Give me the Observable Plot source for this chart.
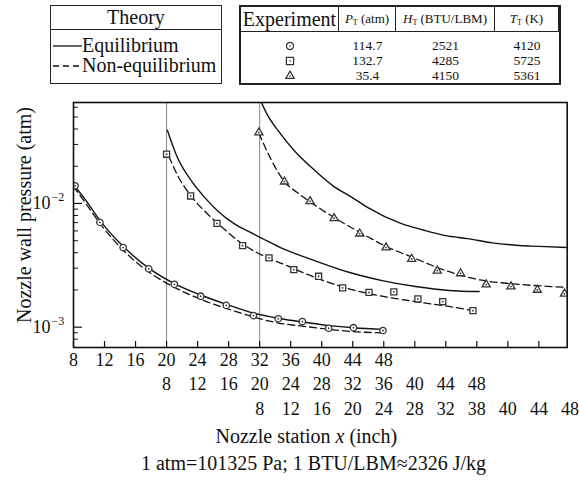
<!DOCTYPE html>
<html><head><meta charset="utf-8">
<script src="https://cdn.jsdelivr.net/npm/d3@7"></script>
<script src="https://cdn.jsdelivr.net/npm/@observablehq/plot@0.6"></script>
<style>
body { margin:0; background:#fff; font-family:"Liberation Serif","Times New Roman",serif; color:#111; }
#wrap { position:relative; width:579px; height:490px; overflow:hidden; }
#theory { position:absolute; left:50px; top:5px; width:170px; height:77px; border:1.6px solid #222; }
#theory .head { height:23px; border-bottom:1.5px solid #222; text-align:center; font-size:20px; line-height:23px; }
#theory .rows { padding-top:5px; }
#theory .row { font-size:20px; line-height:20px; height:20px; white-space:nowrap; padding-left:2px; }
#theory svg { vertical-align:middle; margin-top:-3px; }
#exp { position:absolute; left:239px; top:5px; width:318px; height:76px; border:2px solid #222; }
#exp .grid { display:grid; grid-template-columns:98px 57px 99px 1fr; }
#exp .h { height:24px; border-bottom:1.5px solid #222; border-right:1.5px solid #222; text-align:center; font-size:13px; line-height:24px; white-space:nowrap; }
#exp .h:last-child { border-right:none; }
#exp .h.big { font-size:20px; }
#exp sub { font-size:8px; vertical-align:-2px; }
#exp .c { text-align:center; font-size:13.5px; line-height:15px; height:15px; }
#exp .c svg { vertical-align:middle; margin-top:-2px; }
#chart { position:absolute; left:0; top:90px; }
#caption { position:absolute; left:313.5px; top:452px; transform:translateX(-50%); font-size:20px; white-space:nowrap; }
</style></head><body>
<div id="wrap">
  <div id="theory"></div>
  <div id="exp"></div>
  <div id="chart"></div>
  <div id="caption">1 atm=101325 Pa; 1 BTU/LBM≈2326 J/kg</div>
</div>
<script>
// ---------- data (x = nozzle station on the first scale, p = pressure in atm) ----------
const runStarts = [20, 32];                 // station 8 of runs 2 and 3 on the first scale
const eqRun1 = [[8,0.0142],[9.5,0.0108],[11.4,0.0073],[14.4,0.0045],[17.7,0.0030],[21,0.00225],[24.4,0.00182],[27.7,0.00153],[31.2,0.00130],[34.4,0.00118],[37.5,0.00110],[41,0.00103],[44.1,0.00099],[48,0.00096]];
const neqRun1 = [[8,0.0137],[9.5,0.0102],[11.4,0.0069],[14.4,0.0042],[17.7,0.0028],[21,0.0021],[24.4,0.00168],[27.7,0.00142],[31.2,0.00121],[34.4,0.00108],[37.5,0.00102],[41,0.00096],[44.1,0.00092],[48,0.00090]];
const expRun1 = [[8.2,0.0139],[11.4,0.00703],[14.4,0.0044],[17.7,0.00296],[21,0.00222],[24.4,0.00178],[27.7,0.00150],[31.2,0.00124],[34.4,0.00117],[37.5,0.00111],[40.9,0.00098],[44.1,0.00099],[47.9,0.00094]];

const eqRun2 = [[20.1,0.0391],[21.4,0.0235],[23.2,0.0152],[24.9,0.0112],[26.6,0.0087],[28.8,0.0068],[30.9,0.0058],[32.9,0.0050],[34.7,0.0044],[39.1,0.00345],[43.5,0.00278],[47.8,0.00238],[52.1,0.00213],[56.4,0.00198],[60.3,0.00194]];
const neqRun2 = [[20.3,0.024],[21.5,0.0165],[23.1,0.0116],[24.8,0.0088],[26.5,0.0070],[29.8,0.0047],[33.2,0.0036],[34.7,0.0033],[39.1,0.00253],[43.5,0.00204],[47.8,0.00178],[52.1,0.00161],[56.4,0.00147],[59.6,0.00136]];
const expRun2 = [[20,0.025],[23.1,0.0115],[26.5,0.0069],[29.8,0.00456],[33.2,0.00363],[36.4,0.00292],[39.6,0.00258],[42.7,0.00208],[46.1,0.00191],[49.3,0.00193],[52.4,0.00169],[55.6,0.00161],[59.5,0.00136]];

const eqRun3 = [[32.1,0.068],[33,0.052],[34.4,0.0386],[36.5,0.0266],[38.7,0.0195],[41.5,0.0138],[43.9,0.0112],[45.9,0.0093],[50.2,0.0069],[53.1,0.0061],[56,0.0055],[58.8,0.0052],[62,0.0048],[65,0.0046],[68,0.0045],[71.65,0.0044]];
const neqRun3 = [[31.9,0.037],[33.5,0.0225],[35.2,0.0150],[36.8,0.0123],[38.5,0.0103],[41.6,0.0077],[45,0.0058],[48.3,0.0045],[51.8,0.00365],[56.1,0.00285],[60.4,0.00241],[64.7,0.00224],[69,0.00214],[71.65,0.0021]];
const expRun3 = [[31.9,0.0374],[35.2,0.0150],[38.5,0.0104],[41.6,0.0076],[44.9,0.0057],[48.3,0.0044],[51.6,0.00356],[54.9,0.00286],[57.9,0.00272],[61.2,0.00221],[64.4,0.00213],[67.8,0.0020],[71.3,0.00186]];

const runSymbols = ["circle", "square", "triangle"];
const runSymbolRadius = [4.2, 4.8, 3.7];

// tick labels: three station scales, one per run
const xTicks = [8,12,16,20,24,28,32,36,40,44,48,52,56,60,64,68];
const stationRow1 = ["8","12","16","20","24","28","32","36","40","44","48"];
const stationRow2 = ["8","12","16","20","24","28","32","36","40","44","48"];
const stationRow3 = ["8","12","16","20","24","28","32","38","40","44","48"];
const rowShift = [0, 12, 24];
const yMajor = [1e-3, 1e-2];
const yExponent = ["−3", "−2"];
const yMinor = [8e-4,9e-4,2e-3,3e-3,4e-3,5e-3,6e-3,7e-3,8e-3,9e-3,2e-2,3e-2,4e-2,5e-2,6e-2];

// legend tables
const theoryLabels = ["Equilibrium", "Non-equilibrium"];
const theoryDash = [null, "6,4"];
const expPT = ["114.7", "132.7", "35.4"];
const expHT = ["2521", "4285", "4150"];
const expTT = ["4120", "5725", "5361"];

// ---------- build tables ----------
const toRows = (arr, run) => arr.map(([x, p]) => ({x, p, run}));
const eq = [eqRun1, eqRun2, eqRun3].flatMap((a, i) => toRows(a, i));
const neq = [neqRun1, neqRun2, neqRun3].flatMap((a, i) => toRows(a, i));
const pts = [expRun1, expRun2, expRun3].flatMap((a, i) => toRows(a, i));
const stationLabels = (labels, r) => labels.map((t, i) => ({x: 8 + 4 * i + rowShift[r], t}));

const FONT = "Liberation Serif, Times New Roman, serif";
const frameW = 579 - 73 - 12.3, frameH = 365 - 12 - 108;

const chart = Plot.plot({
  width: 579, height: 365,
  marginTop: 12, marginLeft: 73, marginRight: 12.3, marginBottom: 108,
  x: {domain: [8, 71.65], axis: null},
  y: {type: "log", domain: [6.85e-4, 0.0655], axis: null},
  style: {fontFamily: FONT, fontSize: "18px", color: "#111", background: "white", overflow: "visible"},
  marks: [
    Plot.ruleX(runStarts, {stroke: "#8a8a8a", strokeWidth: 1}),
    Plot.tickX(xTicks, {x: d => d, insetTop: frameH - 6, stroke: "#111", strokeWidth: 1.2}),
    Plot.tickY(yMajor, {y: d => d, insetRight: frameW - 9, stroke: "#111", strokeWidth: 1.2}),
    Plot.tickY(yMinor, {y: d => d, insetRight: frameW - 5, stroke: "#111", strokeWidth: 1}),
    Plot.line(eq, {x: "x", y: "p", z: "run", curve: "monotone-x", stroke: "#111", strokeWidth: 1.4, clip: true}),
    Plot.line(neq, {x: "x", y: "p", z: "run", curve: "monotone-x", stroke: "#111", strokeWidth: 1.3, strokeDasharray: "7,4", clip: true}),
    Plot.dot(pts, {x: "x", y: "p", symbol: d => runSymbols[d.run], r: d => runSymbolRadius[d.run], stroke: "#333", strokeWidth: 1.3, fill: "white", clip: true}),
    Plot.dot(pts, {x: "x", y: "p", r: 0.9, fill: "#333", clip: true}),
    Plot.frame({stroke: "#111", strokeWidth: 1.6}),
    Plot.text(stationLabels(stationRow1, 0), {x: "x", text: "t", frameAnchor: "bottom", dy: 18, fontSize: 18, fill: "#111"}),
    Plot.text(stationLabels(stationRow2, 1), {x: "x", text: "t", frameAnchor: "bottom", dy: 42, fontSize: 18, fill: "#111"}),
    Plot.text(stationLabels(stationRow3, 2), {x: "x", text: "t", frameAnchor: "bottom", dy: 67, fontSize: 18, fill: "#111"}),
    Plot.text(yMajor, {y: d => d, text: () => "10", frameAnchor: "left", textAnchor: "end", dx: -23, fontSize: 18, fill: "#111"}),
    Plot.text(yMajor, {y: d => d, text: (d, i) => yExponent[i], frameAnchor: "left", textAnchor: "start", dx: -22, dy: -6, fontSize: 12, fill: "#111"}),
    Plot.text(["Nozzle wall pressure (atm)"], {text: d => d, frameAnchor: "left", textAnchor: "middle", rotate: -90, dx: -49, dy: -10, fontSize: 20, fill: "#111"}),
    Plot.text(["Nozzle station x (inch)"], {text: d => d, frameAnchor: "bottom", textAnchor: "middle", dx: -14, dy: 95, fontSize: 20, fill: "#111"})
  ]
});
document.getElementById("chart").appendChild(chart);

// italic x in the axis title
d3.select(chart).selectAll("text").filter(function(){ return this.textContent === "Nozzle station x (inch)"; })
  .each(function(){
    const t = d3.select(this); t.text(null);
    t.append("tspan").text("Nozzle station ");
    t.append("tspan").attr("font-style", "italic").text("x");
    t.append("tspan").text(" (inch)");
  });

// ---------- legends ----------
const th = d3.select("#theory");
th.append("div").attr("class", "head").text("Theory");
const thRows = th.append("div").attr("class", "rows");
theoryLabels.forEach((lab, i) => {
  const row = thRows.append("div").attr("class", "row");
  const s = row.append("svg").attr("width", 29).attr("height", 10);
  s.append("line").attr("x1", 0).attr("x2", 29).attr("y1", 5).attr("y2", 5)
    .attr("stroke", "#111").attr("stroke-width", 1.3).attr("stroke-dasharray", theoryDash[i]);
  row.append("span").text(lab);
});

const ex = d3.select("#exp").append("div").attr("class", "grid");
ex.append("div").attr("class", "h big").text("Experiment");
ex.append("div").attr("class", "h").html("<i>P</i><sub>T</sub> (atm)");
ex.append("div").attr("class", "h").html("<i>H</i><sub>T</sub> (BTU/LBM)");
ex.append("div").attr("class", "h").html("<i>T</i><sub>T</sub> (K)");
const symMap = {circle: d3.symbolCircle, square: d3.symbolSquare, triangle: d3.symbolTriangle};
expPT.forEach((v, i) => {
  const pad = i === 0 ? "6px" : "0px";
  const c0 = ex.append("div").attr("class", "c").style("margin-top", pad);
  const s = c0.append("svg").attr("width", 12).attr("height", 11);
  const r = runSymbolRadius[i] * 0.85;
  s.append("path").attr("transform", "translate(6,6)")
    .attr("d", d3.symbol(symMap[runSymbols[i]], Math.PI * r * r)())
    .attr("fill", "white").attr("stroke", "#333").attr("stroke-width", 1.2);
  s.append("circle").attr("cx", 6).attr("cy", 6).attr("r", 0.8).attr("fill", "#333");
  ex.append("div").attr("class", "c").style("margin-top", pad).text(v);
  ex.append("div").attr("class", "c").style("margin-top", pad).text(expHT[i]);
  ex.append("div").attr("class", "c").style("margin-top", pad).text(expTT[i]);
});
</script>
</body></html>
